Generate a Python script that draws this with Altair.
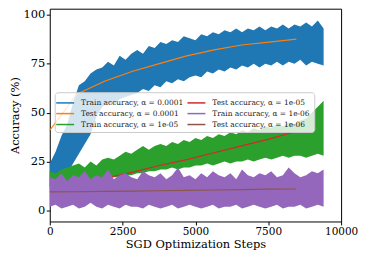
import altair as alt
import pandas as pd

steps = [0, 200, 400, 600, 800, 1000, 1200, 1400, 1600, 1800, 2000, 2200, 2400, 2600,
         2800, 3000, 3200, 3400, 3600, 3800, 4000, 4200, 4400, 4600, 4800, 5000, 5200,
         5400, 5600, 5800, 6000, 6200, 6400, 6600, 6800, 7000, 7200, 7400, 7600, 7800,
         8000, 8200, 8400, 8600, 8800, 9000, 9200, 9400]

train_1e4_lo = [12, 14, 17, 19, 24, 29, 34, 39, 48, 53, 55, 54, 57, 58, 59, 60, 62, 61, 64, 63,
                66, 65, 67, 66, 68, 69, 68, 71, 70, 72, 71, 73, 72, 74, 73, 75, 73, 75, 74, 76,
                74, 76, 75, 77, 74, 76, 75, 74]
train_1e4_hi = [24, 30, 38, 44, 55, 64, 66, 70, 72, 73, 76, 74, 79, 77, 80, 82, 80, 84, 83, 86,
                85, 87, 86, 89, 88, 87, 90, 89, 91, 90, 92, 91, 93, 91, 93, 92, 94, 92, 94, 93,
                95, 93, 95, 94, 96, 94, 97, 93]

train_1e5_lo = [11, 12, 12, 13, 13, 14, 14, 15, 15, 16, 16, 17, 17, 18, 18, 19, 19, 20, 20, 21,
                21, 22, 21, 22, 22, 23, 23, 24, 23, 24, 25, 24, 25, 25, 26, 25, 26, 27, 26, 27,
                28, 27, 28, 28, 27, 28, 29, 28]
train_1e5_hi = [20, 19, 21, 22, 23, 24, 22, 25, 23, 26, 27, 26, 28, 30, 29, 31, 33, 31, 33, 34,
                33, 35, 34, 36, 35, 37, 36, 38, 37, 39, 38, 40, 39, 41, 40, 42, 41, 43, 42, 44,
                43, 45, 44, 46, 47, 50, 53, 56]

train_1e6_lo = [2, 3, 1, 2, 3, 1, 2, 4, 2, 1, 3, 2, 1, 3, 2, 2, 1, 3, 2, 1, 2, 3, 1, 2,
                3, 2, 1, 2, 3, 1, 2, 2, 3, 1, 2, 3, 2, 1, 2, 3, 1, 2, 2, 3, 1, 2, 3, 2]
train_1e6_hi = [17, 16, 19, 15, 18, 17, 20, 16, 18, 17, 21, 16, 18, 19, 17, 16, 20, 18, 17, 19,
                16, 18, 22, 17, 18, 16, 19, 17, 20, 18, 17, 19, 16, 21, 18, 17, 19, 18, 20, 17,
                18, 22, 19, 17, 18, 20, 19, 21]

test_steps = [0, 940, 1880, 2820, 3760, 4700, 5640, 6580, 7520, 8465]
test_1e4 = [41, 59.5, 66, 71, 75, 79, 82, 84.5, 86, 87.5]
test_1e5 = [10, 13, 16.5, 19.5, 23, 26, 29.5, 33, 36.5, 40.5]
test_1e6 = [9.5, 9.6, 9.8, 9.9, 10.1, 10.3, 10.5, 10.7, 10.9, 11.0]

names = ["Train accuracy, α = 0.0001", "Test accuracy, α = 0.0001",
         "Train accuracy, α = 1e-05", "Test accuracy, α = 1e-05",
         "Train accuracy, α = 1e-06", "Test accuracy, α = 1e-06"]
colors = ["#1f77b4", "#ff7f0e", "#2ca02c", "#d62728", "#9467bd", "#8c564b"]

FONT = "DejaVu Serif"

def band(lo, hi):
    return pd.DataFrame({"step": steps, "lo": lo, "hi": hi})

def test_df(vals, name):
    return pd.DataFrame({"step": test_steps, "acc": vals, "series": name})

xs = alt.Scale(domain=[0, 10000], nice=False, zero=False)
ys = alt.Scale(domain=[-5.58, 103.05], nice=False, zero=False)

xax = alt.Axis(values=[0, 2500, 5000, 7500, 10000], format="d", title="SGD Optimization Steps",
               grid=False, domain=False, tickSize=3.5, tickColor="#000", labelPadding=1.5,
               labelFlush=False, titlePadding=2, labelFontSize=10.5)
yax = alt.Axis(values=[0, 25, 50, 75, 100], title="Accuracy (%)", grid=False,
               domain=False, tickSize=3.5, tickColor="#000", labelPadding=1.5,
               titlePadding=2)

color = alt.Color("series:N", scale=alt.Scale(domain=names, range=colors),
                  legend=alt.Legend(title=None, orient="none", legendX=5, legendY=84,
                                    columns=2, symbolType="M-1.5,0H1.5", symbolSize=144,
                                    symbolStrokeWidth=1.5, columnPadding=0,
                                    rowPadding=-1.5, labelFont=FONT, labelFontSize=7.5,
                                    labelColor="#222", fillColor="rgba(255,255,255,0.8)",
                                    strokeColor="#cccccc", cornerRadius=3, padding=3.5,
                                    labelOffset=9, labelLimit=200))

def area(lo, hi, c):
    return alt.Chart(band(lo, hi)).mark_area(color=c, opacity=1, interpolate="linear").encode(
        x=alt.X("step:Q", scale=xs, axis=xax),
        y=alt.Y("lo:Q", scale=ys, axis=yax),
        y2="hi:Q")

def line(vals, name):
    return alt.Chart(test_df(vals, name)).mark_line(strokeWidth=1.2).encode(
        x=alt.X("step:Q", scale=xs, axis=xax),
        y=alt.Y("acc:Q", scale=ys, axis=yax),
        color=color)

chart = alt.layer(
    area(train_1e4_lo, train_1e4_hi, "#1f77b4"),
    line(test_1e4, "Test accuracy, α = 0.0001"),
    area(train_1e5_lo, train_1e5_hi, "#2ca02c"),
    line(test_1e5, "Test accuracy, α = 1e-05"),
    area(train_1e6_lo, train_1e6_hi, "#9467bd"),
    line(test_1e6, "Test accuracy, α = 1e-06"),
).properties(
    width=293, height=214,
    autosize=alt.AutoSizeParams(type="none"),
    padding={"left": 42, "top": 0, "right": 17, "bottom": 31},
).configure_view(
    stroke="#000", strokeWidth=1
).configure_axis(
    labelFont=FONT, titleFont=FONT, labelFontSize=11.5, titleFontSize=11.5,
    labelColor="#000", titleColor="#000", titleFontWeight="normal"
)

chart.save("out.html", embed_options={"renderer": "svg", "actions": False})
